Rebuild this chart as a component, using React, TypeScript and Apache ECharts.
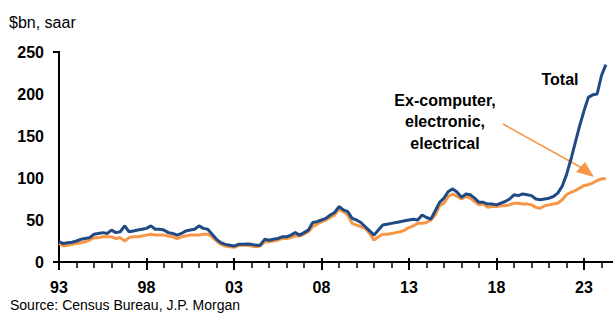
import React, { useEffect, useRef } from "react";
import * as echarts from "echarts";

// Quarterly observations starting 1993 Q1
const startYear = 1993;
const stepYears = 0.25;

const totalValues = [
  24, 22, 23, 23.5,
  25, 27, 28, 29,
  33, 34, 35, 34,
  38, 35, 36, 43,
  36, 37, 38, 39,
  40, 43, 39, 39,
  38, 35, 34, 32,
  34, 37, 38, 39,
  43, 40, 39, 33,
  27, 23, 21, 20,
  19, 21, 21, 21.5,
  21, 20, 20, 27,
  26, 27, 28, 30,
  30, 32, 35, 32,
  35, 38, 47, 48,
  50, 52, 56, 59,
  66, 62, 60, 52,
  50, 47, 42, 37,
  32, 38, 44, 45,
  46, 47, 48, 49,
  50, 51, 50, 56,
  53, 51, 61, 71,
  76, 84, 87, 83,
  77, 81, 80, 76,
  71, 71, 69, 69,
  68, 70, 72, 75,
  80, 79, 81, 80,
  79, 75, 74, 75,
  76, 78, 82, 90,
  104, 122, 142, 162,
  180, 196, 199, 200,
  222, 235,
];

const exValues = [
  22, 19, 20, 21,
  22, 23, 24, 26,
  29, 29, 30, 30,
  30, 28, 29, 25,
  29, 30, 30, 31,
  32, 33, 32, 32,
  32, 31, 30, 28,
  30, 31, 32, 32,
  32, 33, 33, 30,
  25, 21, 19, 18,
  17.5, 19.5, 20, 20,
  19, 18, 19, 24,
  24, 25, 26, 28,
  28, 29, 31, 31,
  33, 36, 42, 45,
  48, 50, 53, 56,
  63, 60, 56, 46,
  44, 42, 40, 34,
  26, 30, 33, 33,
  34, 35, 36, 38,
  41, 43, 46, 46,
  47, 50, 56, 67,
  70, 78, 81, 78,
  75, 78, 76, 72,
  68, 69, 65, 66,
  66, 67, 67, 68,
  70, 70, 69, 69,
  68, 65, 64, 67,
  68, 69, 70, 74,
  80, 83, 85, 88,
  91, 92, 94, 97,
  99, 99,
];

const yTicks = [0, 50, 100, 150, 200, 250];
const seriesNames = ["Ex-computer, electronic, electrical", "Total"];
const annotationLines = ["Ex-computer,", "electronic,", "electrical"];

const FONT = '"Liberation Sans", Arial, Helvetica, sans-serif';
const NAVY = "#1F4A84";
const ORANGE = "#F79646";

const toPairs = (vals: number[]) =>
  vals.map((v, i) => [startYear + i * stepYears, v]);

export default function App() {
  const ref = useRef<HTMLDivElement>(null);

  useEffect(() => {
    if (!ref.current) return;
    const chart = echarts.init(ref.current, undefined, { renderer: "svg" });

    const xLabel = (v: number) => {
      const y = Math.round(v);
      return y <= 2024 && y % 5 === 3 ? String(y % 100).padStart(2, "0") : "";
    };

    chart.setOption({
      animation: false,
      backgroundColor: "#fff",
      grid: {
        left: 59,
        top: 52,
        width: 612.5,
        height: 210,
        containLabel: false,
        outerBoundsMode: "none",
      },
      xAxis: [
        {
          type: "value",
          min: 1993,
          max: 2028,
          interval: 5,
          axisLine: { show: true, lineStyle: { color: "#000", width: 2 } },
          axisTick: { show: true, length: 8, lineStyle: { color: "#000", width: 2 } },
          minorTick: { show: true, splitNumber: 5, length: 6, lineStyle: { color: "#000", width: 1.5 } },
          splitLine: { show: false },
          minorSplitLine: { show: false },
          axisLabel: {
            margin: 17,
            fontSize: 16,
            fontWeight: "bold",
            color: "#000",
            fontFamily: FONT,
            formatter: xLabel,
          },
        },
        {
          type: "value",
          min: 1993,
          max: 2028,
          interval: 5,
          position: "bottom",
          axisLine: { show: false },
          axisTick: { show: true, inside: true, length: 4, lineStyle: { color: "#000", width: 2 } },
          axisLabel: { show: false },
          splitLine: { show: false },
        },
      ],
      yAxis: {
        type: "value",
        min: yTicks[0],
        max: yTicks[yTicks.length - 1],
        interval: 50,
        axisLine: { show: true, lineStyle: { color: "#000", width: 2 } },
        axisTick: { show: false },
        splitLine: { show: false },
        axisLabel: {
          margin: 15,
          fontSize: 16,
          fontWeight: "bold",
          color: "#000",
          fontFamily: FONT,
        },
      },
      series: [
        {
          name: seriesNames[0],
          type: "line",
          data: toPairs(exValues),
          showSymbol: false,
          lineStyle: { color: ORANGE, width: 3 },
          itemStyle: { color: ORANGE },
          z: 2,
        },
        {
          name: seriesNames[1],
          type: "line",
          data: toPairs(totalValues),
          showSymbol: false,
          lineStyle: { color: NAVY, width: 3 },
          itemStyle: { color: NAVY },
          z: 3,
        },
      ],
      graphic: [
        { type: "line", shape: { x1: 53, y1: 262, x2: 60, y2: 262 }, style: { stroke: "#000", lineWidth: 2 } },
        { type: "line", shape: { x1: 53, y1: 52, x2: 60, y2: 52 }, style: { stroke: "#000", lineWidth: 2 } },
        {
          type: "text",
          x: 9,
          y: 22,
          style: { text: "$bn, saar", fontSize: 16, fontFamily: FONT, fill: "#000", align: "left", verticalAlign: "middle" },
        },
        {
          type: "text",
          x: 10,
          y: 305,
          style: {
            text: "Source: Census Bureau, J.P. Morgan",
            fontSize: 14,
            fontFamily: FONT,
            fill: "#000",
            align: "left",
            verticalAlign: "middle",
          },
        },
        {
          type: "text",
          x: 560,
          y: 79,
          style: { text: seriesNames[1], fontSize: 16, fontWeight: "bold", fontFamily: FONT, fill: "#000", align: "center", verticalAlign: "middle" },
        },
        ...annotationLines.map((t, i) => ({
          type: "text",
          x: 445,
          y: 100 + i * 21.5,
          style: { text: t, fontSize: 16, fontWeight: "bold", fontFamily: FONT, fill: "#000", align: "center", verticalAlign: "middle" },
        })),
        {
          type: "line",
          shape: { x1: 503, y1: 124, x2: 582, y2: 168 },
          style: { stroke: ORANGE, lineWidth: 1.5 },
        },
        {
          type: "polygon",
          shape: { points: [[585, 162], [576, 172], [594, 177]] },
          style: { fill: ORANGE },
        },
      ],
    });

    return () => chart.dispose();
  }, []);

  return (
    <div
      ref={ref}
      style={{ position: "fixed", left: 0, top: 0, width: 613, height: 313, overflow: "hidden" }}
    />
  );
}
